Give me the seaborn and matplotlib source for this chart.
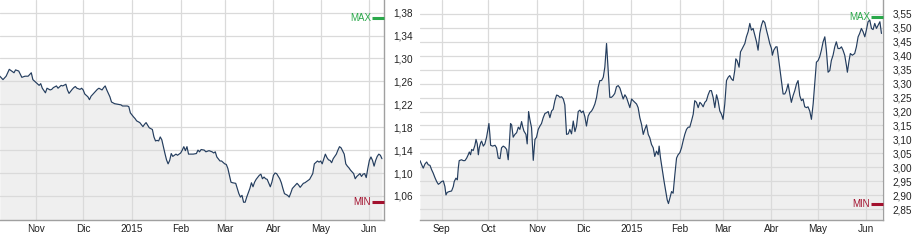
import numpy as np
import pandas as pd
import matplotlib
matplotlib.use("Agg")
import matplotlib.pyplot as plt
import matplotlib.transforms as mtransforms
import seaborn as sns

# ---------------- data ----------------
# Left chart: days since 2014-11-01 and closing values
left_origin = "2014-11-01"
left_days = [-23, -21, -19, -17, -14, -13, -11, -9, -7, -5, -3, -2, 0, 2, 3, 4, 6, 7, 9, 10,
             11, 13, 14, 16, 17, 19, 20, 21, 23, 24, 25, 26, 28, 29, 30, 31, 33, 34, 35, 37,
             39, 40, 42, 43, 44, 45, 47, 48, 50, 52, 54, 55, 58, 59, 60, 62, 63, 64, 66, 68,
             69, 70, 72, 74, 75, 76, 77, 78, 79, 80, 81, 82, 83, 84, 85, 86, 87, 89, 90, 92,
             93, 94, 95, 96, 97, 98, 100, 102, 103, 104, 105, 107, 108, 110, 112, 113, 114, 115, 117, 118,
             120, 121, 122, 123, 124, 125, 127, 128, 129, 130, 131, 132, 133, 134, 136, 137, 138, 139, 140, 142,
             143, 144, 145, 146, 147, 149, 150, 151, 152, 153, 155, 156, 157, 158, 160, 161, 162, 163, 165, 166,
             167, 168, 170, 171, 173, 174, 176, 177, 179, 180, 181, 182, 184, 185, 186, 187, 188, 189, 191, 192,
             193, 194, 196, 197, 198, 199, 200, 201, 202, 203, 204, 206, 207, 208, 209, 210, 211, 212, 213, 214,
             215, 216, 217, 218, 219, 220]
left_vals = [1.269, 1.263, 1.269, 1.281, 1.275, 1.280, 1.278, 1.267, 1.269, 1.269, 1.275, 1.263, 1.258, 1.253, 1.256, 1.248, 1.240, 1.248, 1.245, 1.246,
             1.249, 1.252, 1.248, 1.253, 1.252, 1.255, 1.245, 1.239, 1.246, 1.249, 1.251, 1.248, 1.246, 1.248, 1.245, 1.238, 1.233, 1.228, 1.234, 1.240,
             1.246, 1.248, 1.245, 1.249, 1.252, 1.245, 1.233, 1.224, 1.221, 1.220, 1.219, 1.217, 1.217, 1.216, 1.205, 1.198, 1.195, 1.191, 1.188, 1.181,
             1.185, 1.188, 1.179, 1.176, 1.163, 1.156, 1.157, 1.156, 1.163, 1.158, 1.146, 1.134, 1.123, 1.116, 1.122, 1.134, 1.129, 1.133, 1.131, 1.135,
             1.140, 1.146, 1.139, 1.146, 1.133, 1.133, 1.133, 1.134, 1.140, 1.137, 1.141, 1.140, 1.137, 1.139, 1.137, 1.135, 1.137, 1.128, 1.121, 1.121,
             1.116, 1.115, 1.108, 1.096, 1.084, 1.083, 1.082, 1.073, 1.064, 1.058, 1.061, 1.049, 1.049, 1.058, 1.073, 1.083, 1.076, 1.084, 1.089, 1.096,
             1.098, 1.090, 1.093, 1.090, 1.089, 1.076, 1.084, 1.096, 1.100, 1.099, 1.090, 1.083, 1.073, 1.064, 1.061, 1.058, 1.065, 1.073, 1.079, 1.082,
             1.079, 1.075, 1.082, 1.083, 1.087, 1.089, 1.099, 1.116, 1.121, 1.119, 1.121, 1.116, 1.133, 1.127, 1.123, 1.122, 1.118, 1.125, 1.133, 1.140,
             1.146, 1.144, 1.133, 1.116, 1.112, 1.109, 1.105, 1.102, 1.099, 1.090, 1.094, 1.099, 1.094, 1.098, 1.099, 1.092, 1.108, 1.122, 1.128, 1.122,
             1.112, 1.122, 1.129, 1.133, 1.131, 1.125]
left_max, left_min = 1.370, 1.049
left_yticks = [1.06, 1.10, 1.14, 1.18, 1.22, 1.26, 1.30, 1.34, 1.38]
left_ylabels = ["1,06", "1,10", "1,14", "1,18", "1,22", "1,26", "1,30", "1,34", "1,38"]
left_xticks = ["2014-11-01", "2014-12-01", "2015-01-01", "2015-02-01", "2015-03-01",
               "2015-04-01", "2015-05-01", "2015-06-01"]
left_xlabels = ["Nov", "Dic", "2015", "Feb", "Mar", "Abr", "May", "Jun"]
left_ylim = (1.018, 1.402)
left_xspan = (-22.9, 221.3)

# Right chart: days since 2014-09-01 and closing values
right_origin = "2014-09-01"
right_days = [-13.9, -12.8, -11.8, -10.7, -9.6, -8.6, -7.5, -6.4, -5.4, -4.3, -3.2, -2.1, -1.1, 0.0, 1.1, 2.1, 2.8, 3.6, 4.9, 6.4,
              7.5, 8.1, 9.2, 10.1, 10.7, 11.3, 12.8, 13.9, 15.0, 16.1, 17.1, 17.8, 18.6, 19.3, 20.3, 21.4, 22.1, 22.9, 23.6, 24.2,
              25.1, 25.7, 26.8, 27.8, 28.9, 29.6, 30.4, 31.0, 31.5, 32.8, 34.3, 35.3, 36.4, 37.5, 38.5, 39.6, 40.7, 41.8, 42.8, 43.5,
              44.3, 45.0, 46.0, 47.1, 48.2, 49.3, 50.3, 51.4, 52.0, 52.9, 54.2, 55.0, 55.9, 56.7, 57.8, 58.9, 60.0, 61.0, 62.1, 63.2,
              64.2, 65.3, 66.4, 67.5, 68.5, 69.6, 70.7, 71.7, 72.8, 73.9, 74.9, 76.0, 77.1, 78.2, 79.2, 80.3, 81.4, 82.4, 83.5, 84.6,
              85.7, 86.7, 87.8, 88.9, 89.9, 91.0, 92.1, 93.1, 94.2, 95.3, 96.4, 97.4, 98.5, 99.6, 100.6, 101.7, 102.8, 103.9, 104.9, 106.0,
              107.1, 108.1, 109.2, 110.3, 111.3, 112.4, 113.5, 114.6, 115.6, 116.7, 117.8, 118.8, 119.9, 121.0, 122.1, 123.1, 124.2, 125.3, 126.3, 127.4,
              128.5, 129.6, 130.6, 131.7, 132.8, 133.8, 134.9, 136.0, 137.0, 138.1, 139.2, 139.8, 140.7, 142.0, 143.0, 144.1, 145.0, 145.8, 146.7, 147.8,
              148.8, 149.9, 151.0, 152.0, 153.1, 154.2, 155.2, 156.3, 157.4, 158.5, 159.5, 160.6, 161.7, 162.7, 163.8, 164.9, 166.0, 167.0, 168.1, 169.2,
              170.2, 171.3, 172.4, 173.4, 174.5, 175.6, 176.7, 177.7, 178.8, 179.9, 180.9, 182.0, 183.1, 184.2, 185.2, 186.3, 187.4, 188.4, 189.1, 189.9,
              191.2, 192.1, 192.7, 193.8, 194.9, 195.9, 197.0, 198.1, 199.1, 200.2, 201.3, 202.4, 203.4, 204.5, 205.6, 206.6, 207.7, 208.8, 209.9, 210.9,
              212.0, 212.6, 213.5, 214.8, 215.6, 216.3, 217.3, 218.4, 219.5, 220.6, 221.6, 222.7, 223.8, 224.8, 225.9, 227.0, 228.1, 229.1, 230.2, 231.3,
              232.3, 233.4, 234.5, 235.5, 236.6, 237.7, 238.8, 239.8, 240.9, 242.0, 243.0, 244.1, 245.2, 246.3, 247.3, 248.4, 249.5, 250.5, 251.6, 252.7,
              253.7, 254.8, 255.9, 257.0, 258.0, 259.1, 260.2, 260.8, 261.9, 262.7, 264.0, 265.5, 266.6, 267.7, 268.7, 269.8, 270.9, 272.0, 273.0, 274.1,
              275.2, 276.3, 277.3, 278.4, 279.5, 280.6, 281.7, 282.7]
right_vals = [3.024, 3.009, 2.997, 3.012, 3.019, 3.009, 3.007, 2.991, 2.979, 2.963, 2.949, 2.939, 2.943, 2.949, 2.951, 2.931, 2.901, 2.910, 2.913, 2.915,
              2.931, 2.949, 2.961, 2.955, 2.997, 3.024, 3.027, 3.024, 3.024, 3.033, 3.045, 3.055, 3.045, 3.064, 3.060, 3.079, 3.100, 3.084, 3.045, 3.070,
              3.088, 3.094, 3.076, 3.084, 3.108, 3.130, 3.157, 3.118, 3.079, 3.076, 3.079, 3.070, 3.033, 3.031, 3.070, 3.076, 3.072, 3.064, 3.027, 3.082,
              3.157, 3.152, 3.108, 3.118, 3.124, 3.144, 3.136, 3.164, 3.148, 3.130, 3.118, 3.084, 3.200, 3.172, 3.142, 3.025, 3.100, 3.108, 3.136, 3.148,
              3.157, 3.178, 3.193, 3.196, 3.200, 3.178, 3.202, 3.208, 3.239, 3.259, 3.257, 3.251, 3.253, 3.245, 3.224, 3.118, 3.120, 3.136, 3.120, 3.166,
              3.128, 3.148, 3.200, 3.205, 3.196, 3.202, 3.181, 3.148, 3.184, 3.196, 3.202, 3.212, 3.227, 3.251, 3.287, 3.311, 3.311, 3.323, 3.359, 3.444,
              3.341, 3.251, 3.251, 3.257, 3.265, 3.289, 3.293, 3.284, 3.265, 3.245, 3.260, 3.251, 3.233, 3.214, 3.245, 3.239, 3.233, 3.227, 3.214, 3.178,
              3.154, 3.118, 3.136, 3.152, 3.118, 3.106, 3.082, 3.070, 3.039, 3.058, 3.045, 3.076, 3.033, 2.985, 2.949, 2.913, 2.883, 2.870, 2.889, 2.913,
              2.907, 2.973, 3.033, 3.045, 3.052, 3.070, 3.094, 3.118, 3.136, 3.144, 3.144, 3.166, 3.190, 3.239, 3.233, 3.214, 3.233, 3.227, 3.217, 3.233,
              3.239, 3.260, 3.275, 3.275, 3.251, 3.214, 3.260, 3.239, 3.202, 3.190, 3.172, 3.227, 3.311, 3.323, 3.329, 3.317, 3.311, 3.347, 3.389, 3.383,
              3.359, 3.414, 3.420, 3.432, 3.444, 3.468, 3.486, 3.516, 3.492, 3.498, 3.474, 3.450, 3.420, 3.480, 3.510, 3.526, 3.519, 3.492, 3.468, 3.444,
              3.426, 3.402, 3.420, 3.432, 3.432, 3.402, 3.359, 3.311, 3.263, 3.263, 3.275, 3.299, 3.263, 3.233, 3.257, 3.275, 3.299, 3.311, 3.257, 3.239,
              3.245, 3.217, 3.214, 3.217, 3.202, 3.172, 3.227, 3.299, 3.377, 3.383, 3.396, 3.420, 3.450, 3.468, 3.420, 3.341, 3.347, 3.383, 3.402, 3.432,
              3.450, 3.426, 3.426, 3.432, 3.420, 3.402, 3.365, 3.341, 3.383, 3.408, 3.402, 3.408, 3.432, 3.468, 3.480, 3.498, 3.486, 3.468, 3.492, 3.522,
              3.528, 3.498, 3.494, 3.516, 3.498, 3.510, 3.522, 3.480]
right_max, right_min = 3.540, 2.870
right_yticks = [2.85, 2.90, 2.95, 3.00, 3.05, 3.10, 3.15, 3.20, 3.25, 3.30, 3.35, 3.40, 3.45, 3.50, 3.55]
right_ylabels = ["2,85", "2,90", "2,95", "3,00", "3,05", "3,10", "3,15", "3,20", "3,25", "3,30",
                 "3,35", "3,40", "3,45", "3,50", "3,55"]
right_xticks = ["2014-09-01", "2014-10-01", "2014-11-01", "2014-12-01", "2015-01-01", "2015-02-01",
                "2015-03-01", "2015-04-01", "2015-05-01", "2015-06-01"]
right_xlabels = ["Sep", "Oct", "Nov", "Dic", "2015", "Feb", "Mar", "Abr", "May", "Jun"]
right_ylim = (2.811, 3.600)
right_xspan = (-13.9, 283.7)

# ---------------- style ----------------
sns.set_theme(style="white")
plt.rcParams["font.family"] = ["Liberation Sans", "DejaVu Sans"]

LINE = "#243d5e"
FILL = "#efefef"
GRID = "#dadada"
SPINE = "#a0a0a0"
TXT = "#222222"
GREEN = "#2aa84a"
RED = "#a3112e"

W, H = 920, 246
fig = plt.figure(figsize=(W / 100, H / 100), dpi=100)
fig.patch.set_facecolor("white")


def panel(rect_px, origin, days, vals, ylim, xspan, yticks, ylabels, xticks, xlabels, vmax, vmin):
    x0, x1, y0, y1 = rect_px
    ax = fig.add_axes([x0 / W, 1 - y1 / H, (x1 - x0) / W, (y1 - y0) / H])
    org = pd.Timestamp(origin)
    dates = org + pd.to_timedelta(days, unit="D")
    df = pd.DataFrame({"date": dates, "value": vals})
    ax.fill_between(df["date"], df["value"], ylim[0], color=FILL, lw=0, zorder=0.3)
    sns.lineplot(data=df, x="date", y="value", ax=ax, color=LINE, linewidth=0.85, zorder=3)
    ax.set_xlim(org + pd.Timedelta(days=xspan[0]), org + pd.Timedelta(days=xspan[1]))
    ax.set_ylim(*ylim)
    ax.set_xlabel("")
    ax.set_ylabel("")
    ax.set_yticks(yticks)
    ax.set_yticklabels(ylabels)
    ax.set_xticks(pd.to_datetime(xticks))
    ax.set_xticklabels(xlabels)
    ax.yaxis.tick_right()
    ax.tick_params(axis="y", length=0, pad=7, labelsize=7.2, labelcolor=TXT)
    ax.tick_params(axis="x", length=0, pad=3, labelsize=7.2, labelcolor=TXT)
    ax.set_axisbelow(True)
    ax.grid(True, color=GRID, linewidth=0.9)
    for s in ["left", "top"]:
        ax.spines[s].set_visible(False)
    for s in ["right", "bottom"]:
        ax.spines[s].set_color(SPINE)
        ax.spines[s].set_linewidth(1.0)
    ax.set_facecolor("white")
    # MAX / MIN markers at the right edge
    tr = mtransforms.blended_transform_factory(ax.transAxes, ax.transData)
    seg = 12 / (x1 - x0)
    for val, col, lab in [(vmax, GREEN, "MAX"), (vmin, RED, "MIN")]:
        ax.plot([1 - seg, 1], [val, val], color=col, lw=2.2, transform=tr,
                solid_capstyle="butt", clip_on=False, zorder=5)
        ax.text(1 - seg - 1 / (x1 - x0), val, lab, color=col, fontsize=7, ha="right",
                va="center", transform=tr, zorder=5)
    return ax


panel((0, 384, 0, 220), left_origin, left_days, left_vals, left_ylim, left_xspan,
      left_yticks, left_ylabels, left_xticks, left_xlabels, left_max, left_min)
panel((420, 883, 0, 220), right_origin, right_days, right_vals, right_ylim, right_xspan,
      right_yticks, right_ylabels, right_xticks, right_xlabels, right_max, right_min)

fig.savefig("out.png", dpi=100, facecolor="white")
